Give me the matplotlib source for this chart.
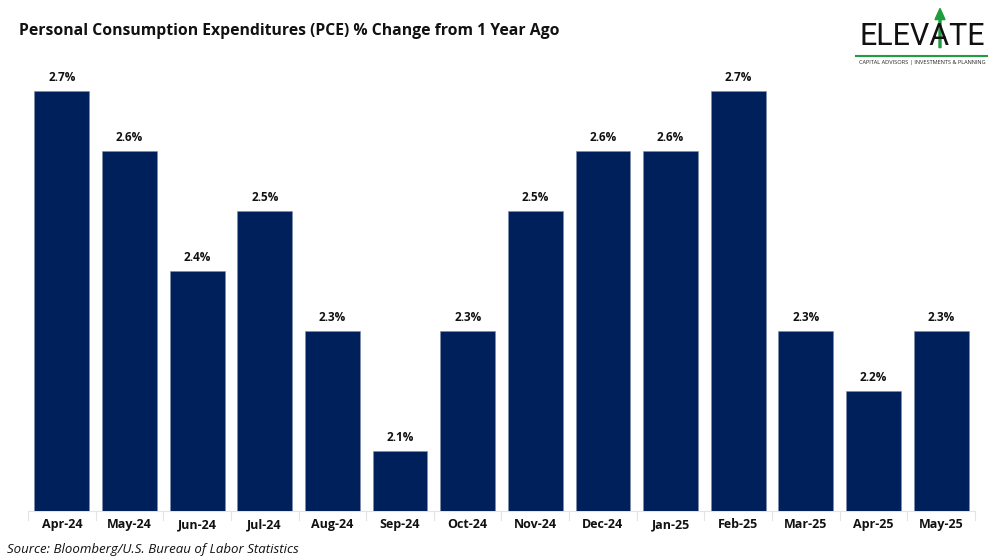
import matplotlib
matplotlib.use("Agg")
import matplotlib.pyplot as plt
from matplotlib.patches import FancyArrow

months = ["Apr-24", "May-24", "Jun-24", "Jul-24", "Aug-24", "Sep-24", "Oct-24",
          "Nov-24", "Dec-24", "Jan-25", "Feb-25", "Mar-25", "Apr-25", "May-25"]
pce_yoy = [2.7, 2.6, 2.4, 2.5, 2.3, 2.1, 2.3, 2.5, 2.6, 2.6, 2.7, 2.3, 2.2, 2.3]

NAVY = "#00205b"
GREEN = "#1e9e3e"
FONT = ["Open Sans", "DejaVu Sans"]
plt.rcParams["font.family"] = FONT

fig = plt.figure(figsize=(10, 5.6), dpi=100)
fig.patch.set_facecolor("white")

ax = fig.add_axes([0.028, 0.0875, 0.947, 0.8035])
x = range(len(months))
bars = ax.bar(x, pce_yoy, width=0.81, color=NAVY, edgecolor="#7f8cab",
              linewidth=0.4, zorder=3)
for b, v in zip(bars, pce_yoy):
    ax.text(b.get_x() + b.get_width() / 2, v + 0.012, f"{v:.1f}%",
            ha="center", va="bottom", fontsize=8.5, fontweight="bold",
            color="#111111")

ax.set_ylim(2.0, 2.75)
ax.set_xlim(-0.5, len(months) - 0.5)
ax.set_xticks(list(x))
ax.set_xticklabels(months, fontsize=9, fontweight="bold", color="#111111")
ax.tick_params(axis="x", length=0, pad=5)
ax.set_yticks([])
for s in ["top", "right", "left"]:
    ax.spines[s].set_visible(False)
ax.spines["bottom"].set_color("#e3e3e3")
ax.spines["bottom"].set_linewidth(0.8)
# faint category separator ticks
for i in range(len(months) + 1):
    ax.plot([i - 0.5, i - 0.5], [2.0, 1.985], color="#e3e3e3", lw=0.8,
            clip_on=False)

fig.text(0.019, 0.945, "Personal Consumption Expenditures (PCE) % Change from 1 Year Ago",
         fontsize=11.3, fontweight="bold", color="#111111", va="center")
fig.text(0.007, 0.018, "Source: Bloomberg/U.S. Bureau of Labor Statistics",
         fontsize=9.5, style="italic", color="#111111", va="center")

# logo
fig.text(0.922, 0.935, "ELEVATE", ha="center", va="center", fontsize=22,
         color="#111111", family=["Roboto", "DejaVu Sans"])
fig.add_artist(plt.Line2D([0.856, 0.987], [0.9, 0.9], color=GREEN, lw=1.5))
fig.text(0.922, 0.888, "CAPITAL ADVISORS | INVESTMENTS & PLANNING", ha="center",
         va="center", fontsize=4.1, color="#222222")
fig.add_artist(FancyArrow(0.94, 0.915, 0.0, 0.05, width=0.002, head_width=0.01,
                          head_length=0.02, color=GREEN, transform=fig.transFigure))

fig.savefig("out.png", dpi=100)
